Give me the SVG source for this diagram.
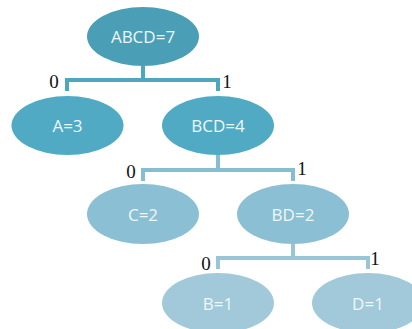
<svg xmlns="http://www.w3.org/2000/svg" width="412" height="329" viewBox="0 0 412 329">
  <style>
    .lbl { font-family: "Open Sans", "Liberation Sans", sans-serif; font-size: 17px; fill: #eef7fa; text-anchor: middle; dominant-baseline: central; }
    .bit { font-family: "Liberation Serif", serif; font-size: 19px; fill: #111; text-anchor: middle; }
    .c1 { fill: none; stroke: #4ea6bf; stroke-width: 4; }
    .c2 { fill: none; stroke: #86bdd1; stroke-width: 4; }
    .c3 { fill: none; stroke: #98c5d8; stroke-width: 4; }
  </style>
  <rect width="412" height="329" fill="#ffffff"/>

  <!-- connectors -->
  <g id="connectors">
    <path class="c1" d="M143 66 V80 M67 91 V80 H218 V91"/>
    <path class="c2" d="M218 155 V170 M143 181 V170 H293 V181"/>
    <path class="c3" d="M293 244 V258 M218 269 V258 H368 V269"/>
    <text class="bit" x="54" y="88">0</text>
    <text class="bit" x="227" y="88">1</text>
    <text class="bit" x="131" y="178">0</text>
    <text class="bit" x="302" y="175">1</text>
    <text class="bit" x="206" y="270">0</text>
    <text class="bit" x="375" y="265">1</text>
  </g>

  <g id="node-abcd">
    <ellipse cx="143" cy="36.5" rx="56" ry="29.5" fill="#4a9fb7"/>
    <text class="lbl" x="143" y="36.5">ABCD=7</text>
  </g>
  <g id="node-a">
    <ellipse cx="67.5" cy="125.5" rx="56" ry="29.5" fill="#51aac4"/>
    <text class="lbl" x="67.5" y="125.5">A=3</text>
  </g>
  <g id="node-bcd">
    <ellipse cx="218" cy="125.5" rx="56" ry="29.5" fill="#51aac4"/>
    <text class="lbl" x="218" y="125.5">BCD=4</text>
  </g>
  <g id="node-c">
    <ellipse cx="143" cy="214" rx="56" ry="30" fill="#8bbfd3"/>
    <text class="lbl" x="143" y="214">C=2</text>
  </g>
  <g id="node-bd">
    <ellipse cx="293" cy="214" rx="56" ry="30" fill="#8bbfd3"/>
    <text class="lbl" x="293" y="214">BD=2</text>
  </g>
  <g id="node-b">
    <ellipse cx="218" cy="303" rx="56" ry="30" fill="#a1c9da"/>
    <text class="lbl" x="218" y="303">B=1</text>
  </g>
  <g id="node-d">
    <ellipse cx="368" cy="303" rx="56" ry="30" fill="#a1c9da"/>
    <text class="lbl" x="368" y="303">D=1</text>
  </g>
</svg>
